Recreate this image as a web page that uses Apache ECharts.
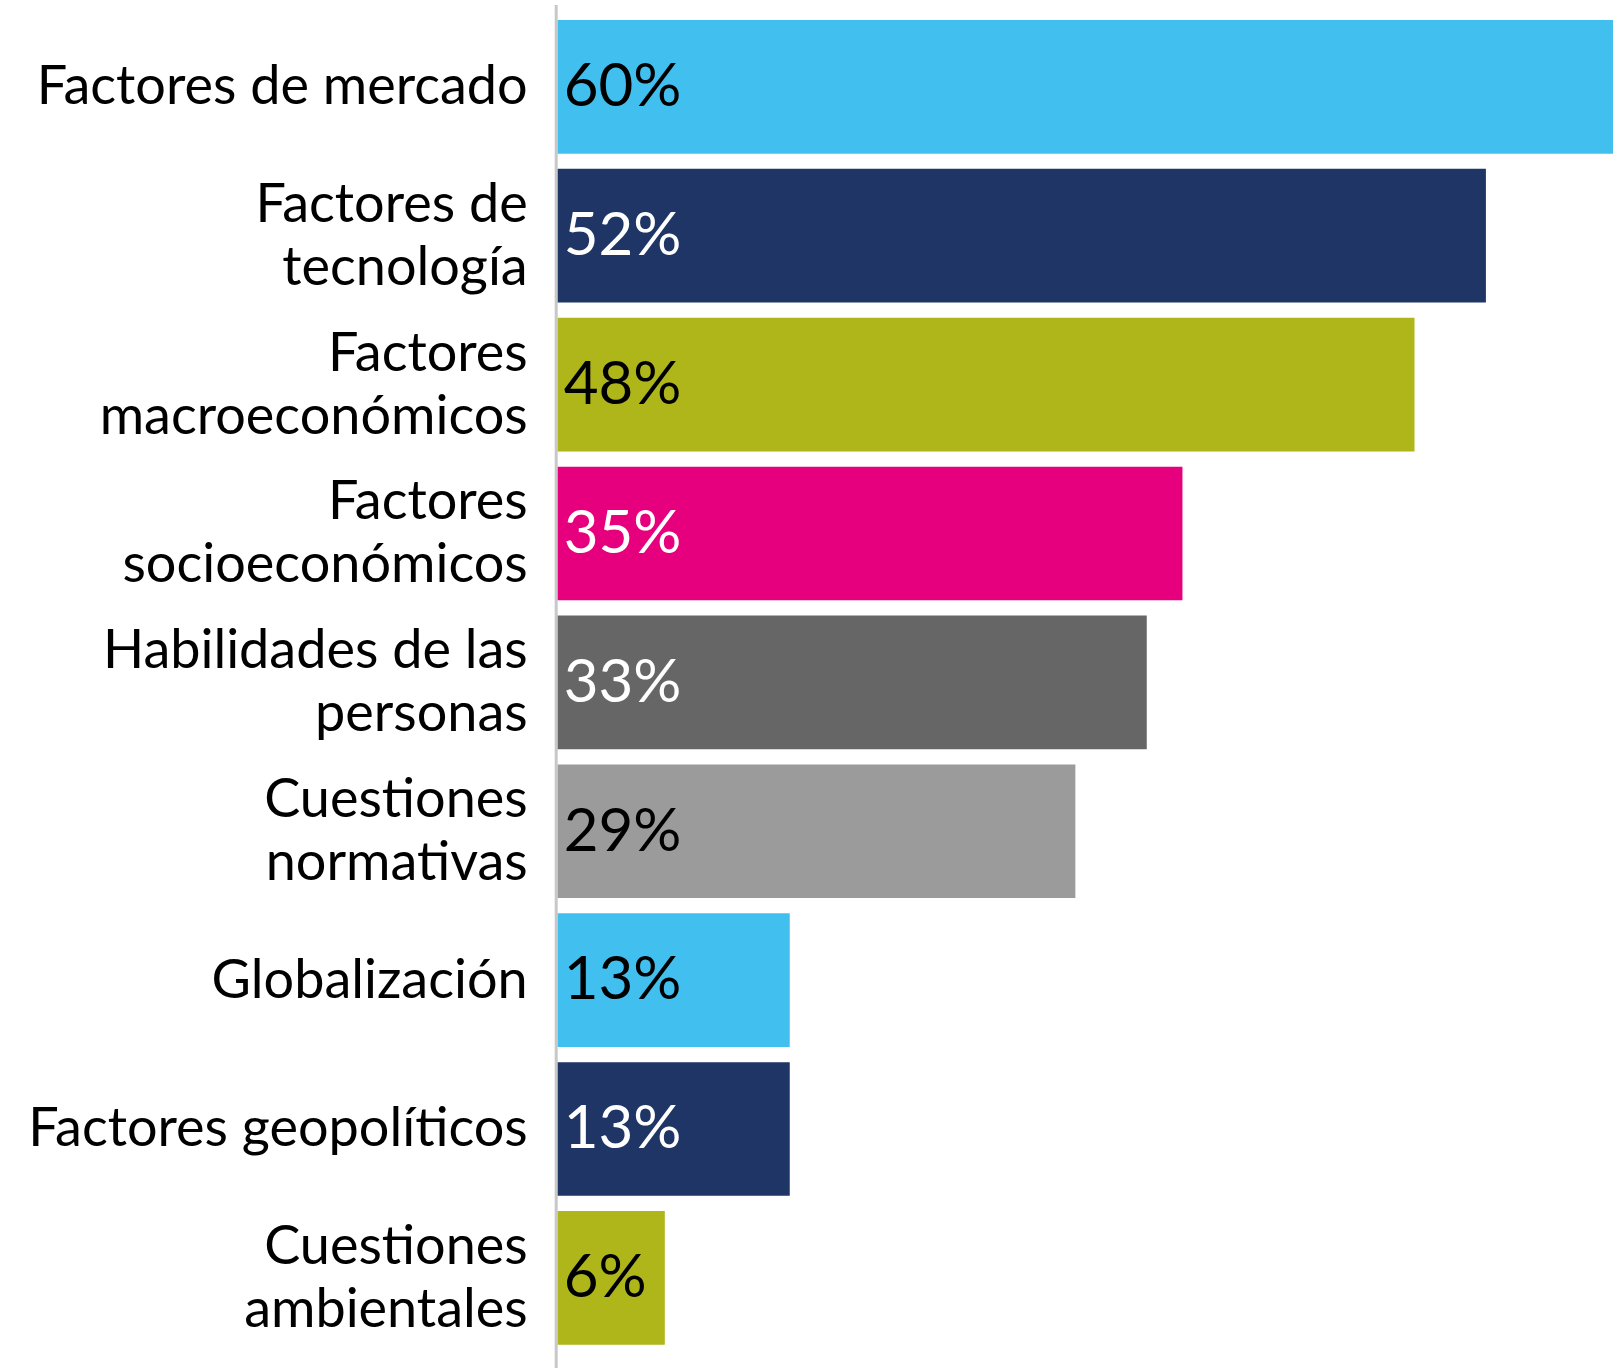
<!DOCTYPE html>
<html>
<head>
<meta charset="utf-8">
<script src="https://cdn.jsdelivr.net/npm/echarts@6/dist/echarts.min.js"></script>
<style>
  html, body { margin: 0; padding: 0; background: #fff; }
  #main { width: 1613px; height: 1368px; }
</style>
</head>
<body>
<div id="main"></div>
<script>
  var categories = [
    'Factores de mercado',
    'Factores de\ntecnología',
    'Factores\nmacroeconómicos',
    'Factores\nsocioeconómicos',
    'Habilidades de las\npersonas',
    'Cuestiones\nnormativas',
    'Globalización',
    'Factores geopolíticos',
    'Cuestiones\nambientales'
  ]
  var values = [60, 52, 48, 35, 33, 29, 13, 13, 6]
  var barColors = ['#41bfef', '#1f3566', '#afb619', '#e6007e', '#666666', '#9b9b9b', '#41bfef', '#1f3566', '#afb619']
  var labelColors = ['#000', '#fff', '#000', '#fff', '#fff', '#000', '#000', '#fff', '#000']

  var chart = echarts.init(document.getElementById('main'))

  var data = values.map(function (v, i) {
    return {
      value: v,
      itemStyle: { color: barColors[i] },
      label: { color: labelColors[i] }
    }
  })

  chart.setOption({
    animation: false,
    grid: {
      left: 557.7,
      right: 0,
      top: 12.4,
      bottom: 15.7
    },
    xAxis: {
      type: 'value',
      min: 0,
      max: 59.12,
      show: false
    },
    yAxis: {
      type: 'category',
      inverse: true,
      data: categories,
      axisLine: { show: false },
      axisTick: { show: false },
      axisLabel: {
        margin: 30,
        fontFamily: 'Lato',
        fontSize: 54,
        lineHeight: 63,
        color: '#000'
      }
    },
    series: [{
      type: 'bar',
      data: data,
      barCategoryGap: '10.2%',
      label: {
        show: true,
        position: 'insideLeft',
        distance: 6,
        fontFamily: 'Lato',
        fontSize: 60,
        formatter: '{c}%'
      }
    }]
  })

  // axis line runs the full height of the picture
  var x0 = chart.convertToPixel({ xAxisIndex: 0 }, 0)
  chart.setOption({
    graphic: [{
      type: 'line',
      z: 0,
      shape: { x1: x0 - 1.5, y1: 5, x2: x0 - 1.5, y2: 1368 },
      style: { stroke: '#c8c8c8', lineWidth: 3 }
    }]
  })
</script>
</body>
</html>
